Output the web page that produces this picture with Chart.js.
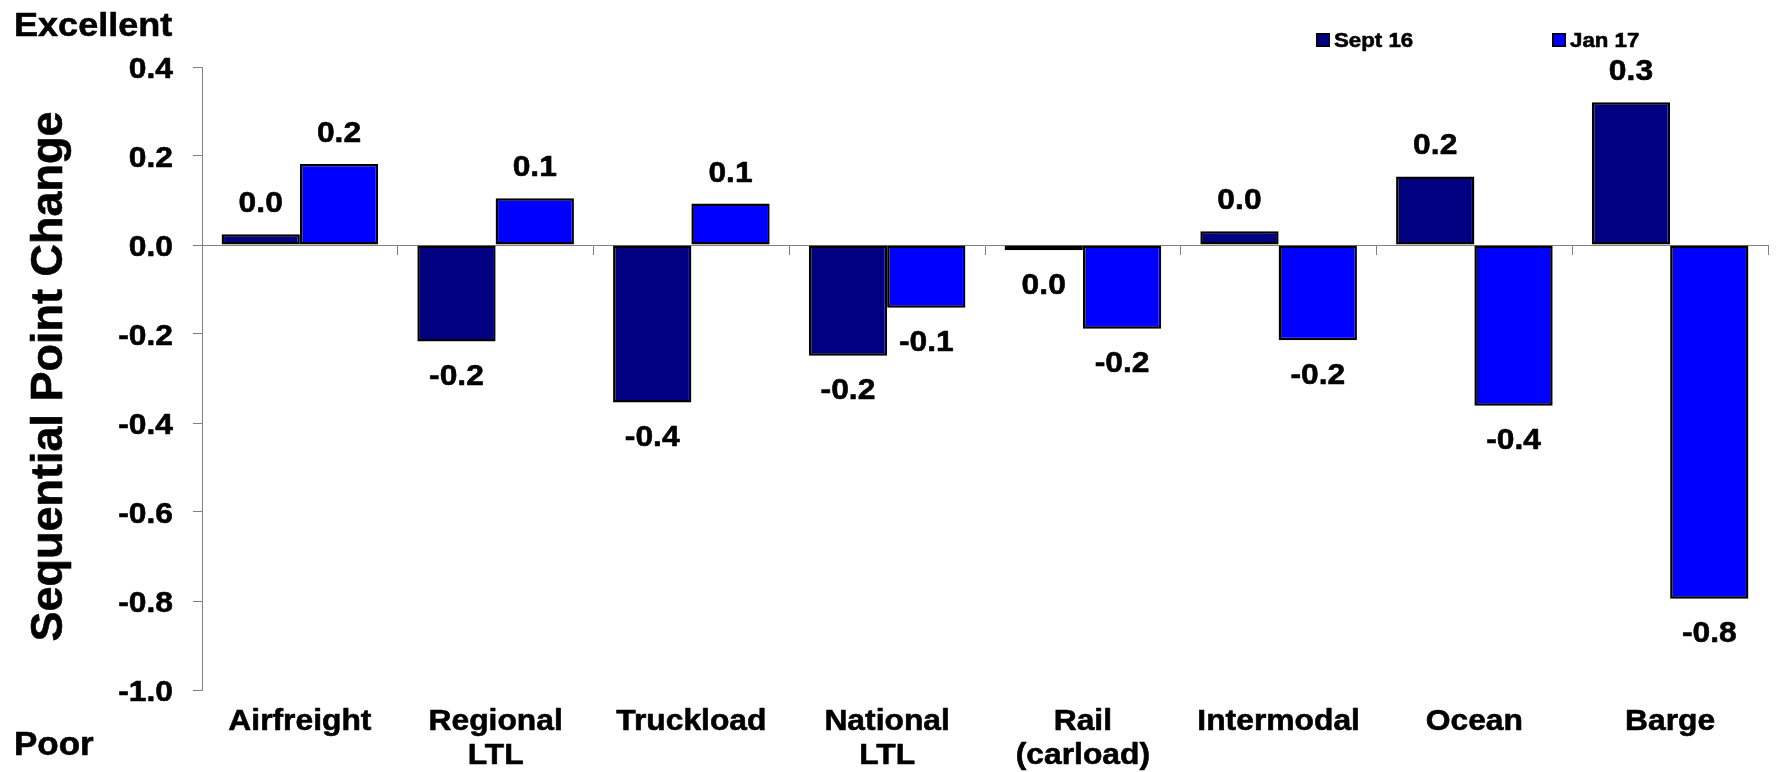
<!DOCTYPE html>
<html>
<head>
<meta charset="utf-8">
<script src="https://cdn.jsdelivr.net/npm/chart.js@4/dist/chart.umd.min.js"></script>
<style>
  html, body { margin: 0; padding: 0; background: #ffffff; }
  #wrap { width: 1778px; height: 772px; position: relative; }
  canvas { display: block; }
</style>
</head>
<body>
<div id="wrap"><canvas id="c" width="1778" height="772"></canvas></div>
<script>
// ---- data ----
const categories = ['Airfreight', ['Regional', 'LTL'], 'Truckload', ['National', 'LTL'], ['Rail', '(carload)'], 'Intermodal', 'Ocean', 'Barge'];
const seriesNames = ['Sept 16', 'Jan 17'];
const sept16 = [0.024, -0.217, -0.354, -0.249, -0.012, 0.031, 0.154, 0.321];
const jan17 = [0.182, 0.105, 0.093, -0.141, -0.188, -0.214, -0.361, -0.795];
const yTicks = [0.4, 0.2, 0.0, -0.2, -0.4, -0.6, -0.8, -1.0];
const yTitle = 'Sequential Point Change';
const topNote = 'Excellent';
const bottomNote = 'Poor';

// ---- helpers ----
const seriesColors = ['#000080', '#0000FF'];
const AXIS_GRAY = '#808080';
const FONT = '"Liberation Sans", Arial, Helvetica, sans-serif';
const CAP = 0.716;
const SX = 1.06;

function fmt(v) {
  const s = (Math.round(v * 10) / 10).toFixed(1);
  return s === '-0.0' ? '0.0' : s;
}

// draws real canvas text, slightly widened and heavier like the reference's Arial
function stretchText(ctx, text, x, y, size, sx, align) {
  ctx.save();
  ctx.font = 'bold ' + size + 'px ' + FONT;
  ctx.textAlign = align;
  ctx.textBaseline = 'alphabetic';
  ctx.translate(x, y);
  ctx.scale(sx, 1);
  ctx.fillStyle = '#000000';
  ctx.strokeStyle = '#000000';
  ctx.lineWidth = 0.6;
  ctx.lineJoin = 'round';
  ctx.fillText(text, 0, 0);
  ctx.strokeText(text, 0, 0);
  ctx.restore();
}

const valueLabels = {
  id: 'valueLabels',
  afterDatasetsDraw(chart) {
    const ctx = chart.ctx;
    const size = 30;
    const cap = size * CAP;
    const gap = 22;
    ctx.save();
    chart.data.datasets.forEach((ds, di) => {
      const meta = chart.getDatasetMeta(di);
      meta.data.forEach((el, i) => {
        const v = ds.data[i];
        const y = v >= 0 ? el.y - gap : el.y + gap + cap;
        stretchText(ctx, fmt(v), el.x, y, size, SX, 'center');
      });
    });
    ctx.restore();
  }
};

const textLayer = {
  id: 'textLayer',
  afterDraw(chart) {
    const ctx = chart.ctx;
    const area = chart.chartArea;
    const xs = chart.scales.x;
    const ys = chart.scales.y;
    ctx.save();

    // y tick labels (through the library's y scale)
    const ySize = 30;
    yTicks.forEach(v => {
      const py = ys.getPixelForValue(v);
      stretchText(ctx, fmt(v), area.left - 29, py + ySize * CAP / 2, ySize, SX, 'right');
    });

    // x category labels (through the library's x scale)
    const xSize = 30;
    categories.forEach((lbl, i) => {
      const px = xs.getPixelForValue(i);
      const lines = Array.isArray(lbl) ? lbl : [lbl];
      lines.forEach((t, j) => {
        stretchText(ctx, t, px, area.bottom + 40 + j * 34, xSize, SX, 'center');
      });
    });

    // rotated axis title
    ctx.save();
    ctx.font = 'bold 45px ' + FONT;
    ctx.textAlign = 'center';
    ctx.textBaseline = 'alphabetic';
    ctx.fillStyle = '#000000';
    ctx.strokeStyle = '#000000';
    ctx.lineWidth = 0.6;
    ctx.translate(62, (area.top + area.bottom) / 2 - 2);
    ctx.rotate(-Math.PI / 2);
    ctx.fillText(yTitle, 0, 0);
    ctx.strokeText(yTitle, 0, 0);
    ctx.restore();

    // Excellent / Poor notes
    stretchText(ctx, topNote, 14, 36, 34, SX, 'left');
    stretchText(ctx, bottomNote, 14, 755, 33, SX, 'left');

    // legend
    const legendX = [1316, 1552];
    chart.data.datasets.forEach((ds, i) => {
      const x = legendX[i];
      ctx.fillStyle = ds.backgroundColor;
      ctx.fillRect(x, 33, 14, 14);
      ctx.strokeStyle = '#000000';
      ctx.lineWidth = 1.5;
      ctx.strokeRect(x + 0.75, 33.75, 12.5, 12.5);
      stretchText(ctx, ds.label, x + 18, 47, 21, SX, 'left');
    });
    ctx.restore();
  }
};

new Chart(document.getElementById('c'), {
  type: 'bar',
  data: {
    labels: categories,
    datasets: [
      { label: seriesNames[0], data: sept16, backgroundColor: seriesColors[0], borderColor: '#000000', borderWidth: 2.5, borderSkipped: false },
      { label: seriesNames[1], data: jan17, backgroundColor: seriesColors[1], borderColor: '#000000', borderWidth: 2.5, borderSkipped: false }
    ]
  },
  options: {
    responsive: false,
    animation: false,
    devicePixelRatio: 1,
    layout: { padding: { top: 67, right: 10, left: 0, bottom: 0 } },
    datasets: { bar: { categoryPercentage: 0.8, barPercentage: 1.0 } },
    plugins: {
      legend: { display: false },
      tooltip: { enabled: false }
    },
    scales: {
      x: {
        type: 'category',
        position: 'bottom',
        grid: { display: false, drawTicks: false },
        border: { display: false },
        ticks: { display: false },
        afterFit(s) { s.height = 82; }
      },
      x2: {
        type: 'category',
        axis: 'x',
        position: { y: 0 },
        offset: true,
        grid: { display: true, drawOnChartArea: false, drawTicks: true, tickLength: 9, offset: true, color: AXIS_GRAY, lineWidth: 1 },
        border: { display: true, color: AXIS_GRAY, width: 1 },
        ticks: { display: false }
      },
      y: {
        type: 'linear',
        position: 'left',
        min: -1.0,
        max: 0.4,
        afterBuildTicks(s) { s.ticks = yTicks.map(v => ({ value: v })); },
        grid: { drawOnChartArea: false, drawTicks: true, tickLength: 9, color: AXIS_GRAY, tickColor: AXIS_GRAY },
        border: { display: true, color: AXIS_GRAY, width: 1 },
        ticks: { display: false },
        afterFit(s) { s.width = 202; }
      }
    }
  },
  plugins: [valueLabels, textLayer]
});
</script>
</body>
</html>
